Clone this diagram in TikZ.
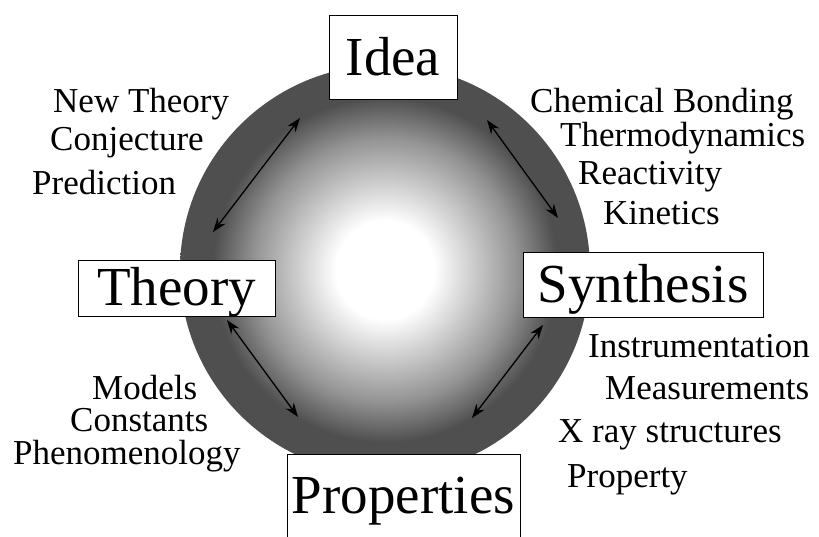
\documentclass[tikz,border=0pt]{standalone}
\usepackage{fontspec}
\setmainfont{Liberation Serif}
\usetikzlibrary{arrows.meta}
\colorlet{ringgray}{black!69}
\pgfdeclareradialshading{sphereshade}{\pgfpoint{0bp}{0bp}}{%
  color(0bp)=(white); color(6bp)=(white); color(16bp)=(black!42);
  color(21bp)=(ringgray); color(25bp)=(ringgray); color(50bp)=(ringgray)}

\begin{document}
\begin{tikzpicture}[x=1pt,y=1pt]
\tikzset{
  stagebox/.style={draw,fill=white,line width=0.9pt,inner sep=0pt,
    text height=36pt,text depth=0pt,font=\fontsize{55}{60}\selectfont},
  note/.style={anchor=base west,inner sep=0pt,font=\fontsize{35}{40}\selectfont},
  link/.style={{Stealth[length=14pt,width=10pt]}-{Stealth[length=14pt,width=10pt]},line width=1.3pt}
}
\useasboundingbox (0,0) rectangle (819,537);
% shaded sphere
\shade[shading=sphereshade] (385,267) circle[radius=205];
% stage boxes
\node[stagebox,minimum width=128pt,minimum height=84pt] (n_idea) at (393,479.5) {Idea};
\node[stagebox,minimum width=197pt,minimum height=56pt] (n_theory) at (176.5,249) {Theory};
\node[stagebox,minimum width=240pt,minimum height=65pt] (n_synth) at (643,252) {Synthesis};
\node[stagebox,minimum width=233pt,minimum height=84pt] (n_prop) at (403.5,41) {Properties};
% arrow ends
\coordinate (a_it1) at (300,419);
\coordinate (a_it2) at (213,305);
\coordinate (a_is1) at (487,417);
\coordinate (a_is2) at (558,319);
\coordinate (a_tp1) at (227,217);
\coordinate (a_tp2) at (298,120);
\coordinate (a_sp1) at (543,212);
\coordinate (a_sp2) at (472,119);
\draw[link] (a_it1) -- (a_it2);
\draw[link] (a_is1) -- (a_is2);
\draw[link] (a_tp1) -- (a_tp2);
\draw[link] (a_sp1) -- (a_sp2);
% notes
\node[note] (t_new) at (53,424) {New Theory};
\node[note] (t_conj) at (50,386) {Conjecture};
\node[note] (t_pred) at (32,342) {Prediction};
\node[note] (t_chem) at (530,424) {Chemical Bonding};
\node[note] (t_thermo) at (560,390) {Thermodynamics};
\node[note] (t_react) at (578,352) {Reactivity};
\node[note] (t_kin) at (603,312) {Kinetics};
\node[note] (t_instr) at (588,179) {Instrumentation};
\node[note] (t_meas) at (605,137) {Measurements};
\node[note] (t_xray) at (558,94) {X ray structures};
\node[note] (t_prop) at (567,49) {Property};
\node[note] (t_mod) at (92,137) {Models};
\node[note] (t_const) at (70,105) {Constants};
\node[note] (t_phen) at (13,72) {Phenomenology};
\end{tikzpicture}
\end{document}
